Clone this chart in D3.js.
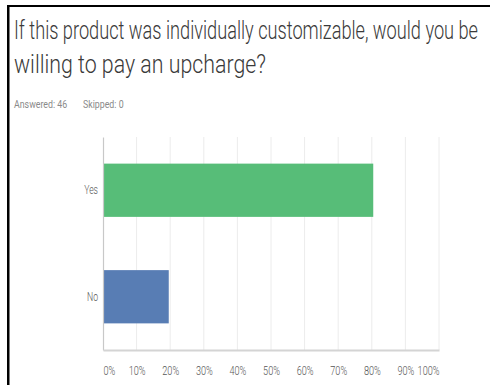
<!DOCTYPE html>
<meta charset="utf-8">
<script src="https://d3js.org/d3.v7.min.js"></script>
<style>
  body { margin: 0; background: #fff; }
  text { font-family: Roboto, "Noto Sans", sans-serif; }
</style>
<div id="chart"></div>
<script>
// survey answers and their share of respondents (%)
const answers = ["Yes", "No"];
const shares = [80.43, 19.57];
const barColors = ["#57bd78", "#587db4"];
const ticks = [0, 10, 20, 30, 40, 50, 60, 70, 80, 90, 100];
const titleLines = ["If this product was individually customizable, would you be", "willing to pay an upcharge?"];
const summary = ["Answered: 46", "Skipped: 0"];

const W = 490, H = 385;
const margin = {top: 137, right: 51, bottom: 35, left: 103};
const width = W - margin.left - margin.right,
      height = H - margin.top - margin.bottom;

// the original font is a condensed one, squeeze the text horizontally
function condense(sel, factor) {
  sel.each(function() {
    const len = this.getComputedTextLength();
    d3.select(this).attr("textLength", len * factor).attr("lengthAdjust", "spacingAndGlyphs");
  });
}

const svg = d3.select("#chart").append("svg")
    .attr("width", W)
    .attr("height", H);

// frame lines (left and top)
svg.append("rect").attr("x", 7).attr("y", 5).attr("width", W - 7).attr("height", 2).attr("fill", "#000");
svg.append("rect").attr("x", 7).attr("y", 5).attr("width", 2.5).attr("height", H).attr("fill", "#000");

// title
const titleWidths = [464, 252];
svg.append("g").selectAll("text")
  .data(titleLines)
  .join("text")
    .attr("x", 14)
    .attr("y", (d, i) => 39 + i * 34)
    .attr("font-size", 25)
    .attr("font-weight", 300)
    .attr("fill", "#3a3a3a")
    .attr("textLength", (d, i) => titleWidths[i])
    .attr("lengthAdjust", "spacingAndGlyphs")
    .text(d => d);

svg.append("g").selectAll("text")
  .data(summary)
  .join("text")
    .attr("x", (d, i) => i === 0 ? 14 : 83)
    .attr("y", 108)
    .attr("font-size", 11)
    .attr("fill", "#8a8a8a")
    .text(d => d)
    .call(condense, 0.8);

const g = svg.append("g")
    .attr("transform", `translate(${margin.left}, ${margin.top})`);

const x = d3.scaleLinear().domain([0, 100]).range([0, width]);
const y = d3.scaleBand().domain(answers).range([0, height])
    .paddingInner(0.5).paddingOuter(0.25);

// grid lines
g.append("g").selectAll("line")
  .data(ticks.slice(1))
  .join("line")
    .attr("x1", d => x(d)).attr("x2", d => x(d))
    .attr("y1", 0).attr("y2", height)
    .attr("stroke", "#ececec")
    .attr("stroke-width", 1);

// bars
g.append("g").selectAll("rect")
  .data(answers)
  .join("rect")
    .attr("x", 0)
    .attr("y", d => y(d))
    .attr("width", (d, i) => x(shares[i]))
    .attr("height", y.bandwidth())
    .attr("fill", (d, i) => barColors[i]);

// y axis
const yAxis = g.append("g")
    .call(d3.axisLeft(y).tickSize(0).tickPadding(5));
yAxis.select(".domain").attr("stroke", "#c8c8c8").attr("stroke-width", 1.2);
yAxis.selectAll("text")
    .attr("font-size", 12)
    .attr("font-weight", 300)
    .attr("fill", "#555")
    .style("font-family", "Roboto, sans-serif")
    .call(condense, 0.72);

// x axis
const xAxis = g.append("g")
    .attr("transform", `translate(0, ${height})`)
    .call(d3.axisBottom(x).tickValues(ticks).tickSize(0).tickPadding(16).tickFormat(d => d + "%"));
xAxis.select(".domain").attr("stroke", "#d4d4d4").attr("stroke-width", 2);
xAxis.selectAll("text")
    .attr("font-size", 12)
    .attr("font-weight", 300)
    .attr("fill", "#555")
    .style("font-family", "Roboto, sans-serif")
    .attr("text-anchor", d => d === 0 ? "start" : d === 100 ? "end" : "middle")
    .call(condense, 0.76);
</script>
